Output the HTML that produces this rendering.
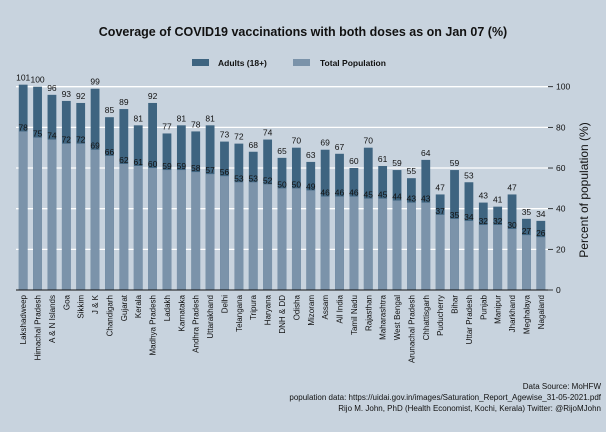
<!DOCTYPE html>
<html><head><meta charset="utf-8"><style>
body{margin:0;background:#c8d3de;font-family:"Liberation Sans",sans-serif}
svg{display:block}
</style></head><body>
<svg id="c" width="606" height="432" xmlns="http://www.w3.org/2000/svg">
<rect width="606" height="432" fill="#c8d3de"/>
<text x="303" y="36" text-anchor="middle" font-size="12.5" font-weight="bold" fill="#111">Coverage of COVID19 vaccinations with both doses as on Jan 07 (%)</text>
<g>
<rect x="192" y="59" width="17" height="7" fill="#3e6480"/>
<text x="218" y="66" font-size="8.5" font-weight="bold" fill="#111">Adults (18+)</text>
<rect x="293" y="59" width="17" height="7" fill="#7b93aa"/>
<text x="320" y="66" font-size="8.5" font-weight="bold" fill="#111">Total Population</text>
</g>
<g id="plot"></g>
<text transform="translate(588,190) rotate(-90)" text-anchor="middle" font-size="12" fill="#111">Percent of population (%)</text>
<g font-size="8" fill="#111" text-anchor="end">
<text x="601" y="389">Data Source: MoHFW</text>
<text x="601" y="400">population data: https://uidai.gov.in/images/Saturation_Report_Agewise_31-05-2021.pdf</text>
<text x="601" y="411">Rijo M. John, PhD (Health Economist, Kochi, Kerala) Twitter: @RijoMJohn</text>
</g>
</svg>
<script>
const categories=["Lakshadweep","Himachal Pradesh","A & N Islands","Goa","Sikkim","J & K","Chandigarh","Gujarat","Kerala","Madhya Pradesh","Ladakh","Karnataka","Andhra Pradesh","Uttarakhand","Delhi","Telangana","Tripura","Haryana","DNH & DD","Odisha","Mizoram","Assam","All India","Tamil Nadu","Rajasthan","Maharashtra","West Bengal","Arunachal Pradesh","Chhattisgarh","Puducherry","Bihar","Uttar Pradesh","Punjab","Manipur","Jharkhand","Meghalaya","Nagaland"];
const adults=[101,100,96,93,92,99,85,89,81,92,77,81,78,81,73,72,68,74,65,70,63,69,67,60,70,61,59,55,64,47,59,53,43,41,47,35,34];
const total=[78,75,74,72,72,69,66,62,61,60,59,59,58,57,56,53,53,52,50,50,49,46,46,46,45,45,44,43,43,37,35,34,32,32,30,27,26];
const yTicks=[0,20,40,60,80,100];
const NS="http://www.w3.org/2000/svg";
const g=document.getElementById('plot');
const x0=16,x1=548,yBase=290,yTop=86.7;
const y=v=>yBase-(yBase-yTop)*v/100;
const step=(x1-x0)/categories.length;
const xc=i=>x0+step*(i+0.5);
const bw=8.8;
function mk(t,a){const e=document.createElementNS(NS,t);for(const k in a)e.setAttribute(k,a[k]);g.appendChild(e);return e;}
yTicks.forEach(t=>{
 if(t>0){const l=mk('line',{x1:x0,x2:x1,y1:y(t),y2:y(t),stroke:'#fff','stroke-width':1.3});
 
 }
 const tk=mk('line',{x1:x1,x2:x1+5,y1:y(t),y2:y(t),stroke:'#111','stroke-width':0.8});
 
 
 const tx=mk('text',{x:x1+8,y:y(t)+3,'font-size':8.5,fill:'#111'});tx.textContent=t;
 
 
});
categories.forEach((c,i)=>{
 const cx=xc(i);
 const a=mk('rect',{x:cx-bw/2,y:y(adults[i]),width:bw,height:yBase-y(adults[i]),fill:'#3e6480'});
 
 
 const b=mk('rect',{x:cx-bw/2,y:y(total[i]),width:bw,height:yBase-y(total[i]),fill:'#7b93aa'});
 
 
 const ta=mk('text',{x:cx,y:y(adults[i])-4,'font-size':8.5,'text-anchor':'middle',fill:'#111'});ta.textContent=adults[i];
 
 
 const tt=mk('text',{x:cx,y:y(total[i])-1,'font-size':8.5,'text-anchor':'middle',fill:'#111'});tt.textContent=total[i];
 
 
 const lb=mk('text',{transform:`translate(${cx+3},${yBase+5}) rotate(-90)`,'font-size':8,'text-anchor':'end',fill:'#111'});lb.textContent=c;
 
 
});
const ax=mk('line',{x1:x0,x2:x1,y1:yBase,y2:yBase,stroke:'#111','stroke-width':1});


</script>
</body></html>
